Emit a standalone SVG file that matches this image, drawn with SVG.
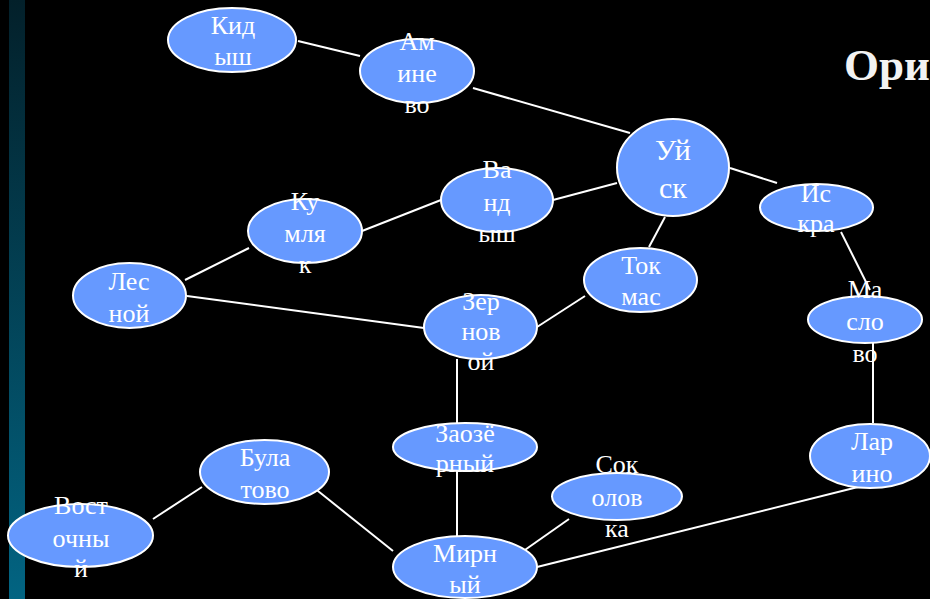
<svg xmlns="http://www.w3.org/2000/svg" width="930" height="599" viewBox="0 0 930 599">
  <defs>
    <linearGradient id="sidebar" x1="0" y1="0" x2="0" y2="1">
      <stop offset="0" stop-color="#03202a"/>
      <stop offset="1" stop-color="#026482"/>
    </linearGradient>
    <style>
      .node ellipse { fill: #6699ff; stroke: #ffffff; stroke-width: 2; }
      .node text { fill: #ffffff; font-size: 26px; text-anchor: middle; }
      .node text.big { font-size: 30px; }
      #edges line { stroke: #ffffff; stroke-width: 2; }
      .title { fill: #f2f2f2; font-size: 45px; font-weight: bold; }
    </style>
  </defs>

  <rect x="0" y="0" width="930" height="599" fill="#000000"/>
  <rect x="9" y="0" width="16" height="599" fill="url(#sidebar)"/>

  <g font-family="'Liberation Serif', 'DejaVu Serif', serif">
  <text class="title" x="844" y="80">Ори</text>

  <g id="edges">
    <line x1="298" y1="41" x2="360" y2="56"/>
    <line x1="473" y1="88" x2="630" y2="133"/>
    <line x1="553" y1="200" x2="617" y2="183"/>
    <line x1="362" y1="231" x2="441" y2="200"/>
    <line x1="185" y1="280" x2="249" y2="248"/>
    <line x1="187" y1="296" x2="424" y2="328"/>
    <line x1="665" y1="217" x2="649" y2="247"/>
    <line x1="585" y1="296" x2="537" y2="327"/>
    <line x1="730" y1="168" x2="777" y2="183"/>
    <line x1="841" y1="232" x2="870" y2="290"/>
    <line x1="873" y1="343" x2="873" y2="423"/>
    <line x1="858" y1="487" x2="537" y2="567"/>
    <line x1="457" y1="359" x2="457" y2="423"/>
    <line x1="457" y1="471" x2="457" y2="536"/>
    <line x1="569" y1="519" x2="522" y2="552"/>
    <line x1="313" y1="487" x2="393" y2="551"/>
    <line x1="153" y1="519" x2="202" y2="487"/>
  </g>

  <g id="kidysh" class="node">
    <ellipse cx="232" cy="40" rx="64" ry="32"/>
    <text x="233" y="34">Кид</text>
    <text x="233" y="65">ыш</text>
  </g>
  <g id="aminevo" class="node">
    <ellipse cx="417" cy="71" rx="57" ry="32"/>
    <text x="417" y="50">Ам</text>
    <text x="417" y="82">ине</text>
    <text x="417" y="113">во</text>
  </g>
  <g id="uysk" class="node">
    <ellipse cx="673" cy="167.5" rx="56" ry="48.5"/>
    <text class="big" x="673" y="160">Уй</text>
    <text class="big" x="673" y="198">ск</text>
  </g>
  <g id="iskra" class="node">
    <ellipse cx="816.5" cy="207.5" rx="56.5" ry="23.5"/>
    <text x="816" y="202">Ис</text>
    <text x="816" y="232">кра</text>
  </g>
  <g id="vandysh" class="node">
    <ellipse cx="497" cy="200" rx="56" ry="32"/>
    <text x="497" y="178">Ва</text>
    <text x="497" y="211">нд</text>
    <text x="497" y="242">ыш</text>
  </g>
  <g id="kumlyak" class="node">
    <ellipse cx="305" cy="231" rx="57" ry="32"/>
    <text x="305" y="210">Ку</text>
    <text x="305" y="242">мля</text>
    <text x="305" y="273">к</text>
  </g>
  <g id="lesnoy" class="node">
    <ellipse cx="129.5" cy="295.5" rx="56.5" ry="32.5"/>
    <text x="129" y="290">Лес</text>
    <text x="129" y="322">ной</text>
  </g>
  <g id="tokmas" class="node">
    <ellipse cx="640.5" cy="280" rx="56.5" ry="32"/>
    <text x="641" y="274">Ток</text>
    <text x="641" y="305">мас</text>
  </g>
  <g id="zernovoy" class="node">
    <ellipse cx="480.5" cy="327" rx="56.5" ry="32"/>
    <text x="481" y="310">Зер</text>
    <text x="481" y="340">нов</text>
    <text x="481" y="370">ой</text>
  </g>
  <g id="maslovo" class="node">
    <ellipse cx="865" cy="319.5" rx="57" ry="23.5"/>
    <text x="865" y="298">Ма</text>
    <text x="865" y="330">сло</text>
    <text x="865" y="362">во</text>
  </g>
  <g id="larino" class="node">
    <ellipse cx="870" cy="456" rx="60" ry="32"/>
    <text x="872" y="450">Лар</text>
    <text x="872" y="482">ино</text>
  </g>
  <g id="zaozerny" class="node">
    <ellipse cx="465" cy="447" rx="72" ry="24"/>
    <text x="465" y="442">Заозё</text>
    <text x="465" y="472">рный</text>
  </g>
  <g id="sokolovka" class="node">
    <ellipse cx="617" cy="496.5" rx="65" ry="23.5"/>
    <text x="617" y="473">Сок</text>
    <text x="617" y="506">олов</text>
    <text x="617" y="537">ка</text>
  </g>
  <g id="bulatovo" class="node">
    <ellipse cx="264.5" cy="472" rx="64.5" ry="32"/>
    <text x="265" y="466">Була</text>
    <text x="265" y="498">тово</text>
  </g>
  <g id="vostochny" class="node">
    <ellipse cx="80.5" cy="535.5" rx="72.5" ry="31.5"/>
    <text x="81" y="514">Вост</text>
    <text x="81" y="547">очны</text>
    <text x="81" y="577">й</text>
  </g>
  <g id="mirny" class="node">
    <ellipse cx="465" cy="567" rx="72" ry="31"/>
    <text x="465" y="562">Мирн</text>
    <text x="465" y="593">ый</text>
  </g>
  </g>
</svg>
